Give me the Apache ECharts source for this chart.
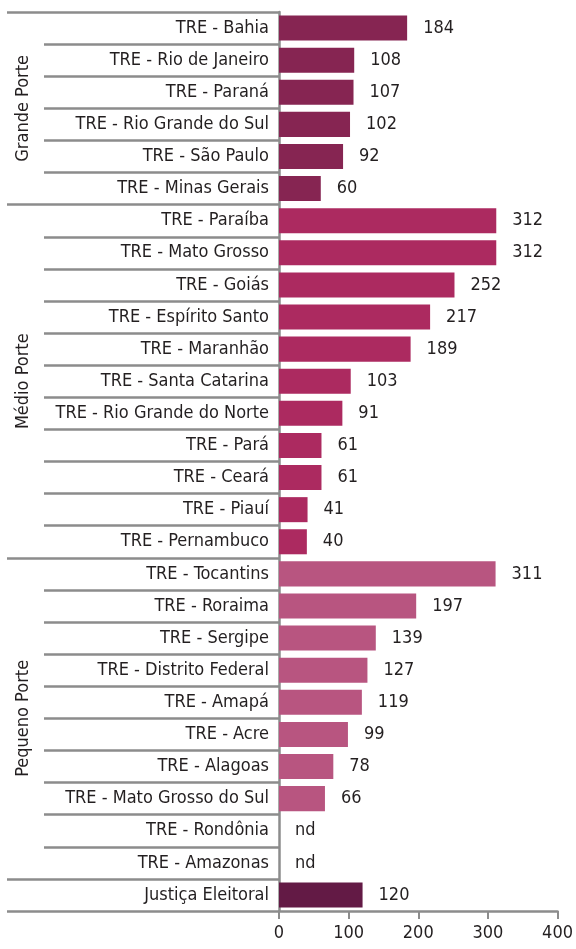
<!DOCTYPE html>
<html>
<head>
<meta charset="utf-8">
<script src="https://cdn.jsdelivr.net/npm/echarts@6/dist/echarts.min.js"></script>
<style>
  html, body { margin: 0; padding: 0; background: #fff; }
  #chart { width: 576px; height: 949px; }
</style>
</head>
<body>
<div id="chart"></div>
<script>
// categorias (ordem de cima para baixo)
const categories = [
  'TRE - Bahia', 'TRE - Rio de Janeiro', 'TRE - Paraná', 'TRE - Rio Grande do Sul', 'TRE - São Paulo', 'TRE - Minas Gerais',
  'TRE - Paraíba', 'TRE - Mato Grosso', 'TRE - Goiás', 'TRE - Espírito Santo', 'TRE - Maranhão', 'TRE - Santa Catarina',
  'TRE - Rio Grande do Norte', 'TRE - Pará', 'TRE - Ceará', 'TRE - Piauí', 'TRE - Pernambuco',
  'TRE - Tocantins', 'TRE - Roraima', 'TRE - Sergipe', 'TRE - Distrito Federal', 'TRE - Amapá', 'TRE - Acre',
  'TRE - Alagoas', 'TRE - Mato Grosso do Sul', 'TRE - Rondônia', 'TRE - Amazonas',
  'Justiça Eleitoral'
];
const values = [
  184, 108, 107, 102, 92, 60,
  312, 312, 252, 217, 189, 103, 91, 61, 61, 41, 40,
  311, 197, 139, 127, 119, 99, 78, 66, null, null,
  120
];
// grupos: índice inicial, índice final, nome
const groupNames = ['Grande Porte', 'Médio Porte', 'Pequeno Porte', ''];
const groupStarts = [0, 6, 17, 27];
const groupEnds = [5, 16, 26, 27];
const groupColors = ['#862552', '#ac2a60', '#b85580', '#631a45'];
const xTicks = [0, 100, 200, 300, 400];

const FONT = "'Liberation Sans Narrow', 'DejaVu Sans Condensed', sans-serif";
const TEXT = '#231f20';
const GRID_LINE = '#8c8c8c';

function groupOf(i) {
  for (let g = groupStarts.length - 1; g >= 0; g--) {
    if (i >= groupStarts[g]) return g;
  }
  return 0;
}

const chart = echarts.init(document.getElementById('chart'));

const option = {
  animation: false,
  grid: { left: 279, right: 18, top: 12, bottom: 38 },
  xAxis: {
    type: 'value',
    min: xTicks[0],
    max: xTicks[xTicks.length - 1],
    interval: 100,
    splitLine: { show: false },
    axisLine: { show: true, lineStyle: { color: GRID_LINE, width: 2.5 } },
    axisTick: { show: true, length: 8, lineStyle: { color: GRID_LINE, width: 2 } },
    axisLabel: { fontFamily: FONT, fontSize: 18, color: TEXT, margin: 13 }
  },
  yAxis: [
    {
      type: 'category',
      data: categories,
      inverse: true,
      axisLine: { show: true, lineStyle: { color: GRID_LINE, width: 2.5 } },
      axisTick: { show: true, interval: 0, length: 235, lineStyle: { color: GRID_LINE, width: 2.5 } },
      axisLabel: { interval: 0, fontFamily: FONT, fontSize: 18, color: TEXT, margin: 10 }
    },
    {
      // linhas longas nas divisões dos grupos
      type: 'category',
      data: categories,
      inverse: true,
      position: 'left',
      axisLine: { show: false },
      axisTick: {
        show: true,
        interval: function (index) { return groupStarts.indexOf(index) >= 0; },
        length: 272,
        lineStyle: { color: GRID_LINE, width: 2.5 }
      },
      axisLabel: { show: false }
    }
  ],
  series: [
    {
      type: 'bar',
      yAxisIndex: 0,
      barCategoryGap: '22%',
      data: values.map((v, i) => ({
        value: v == null ? 0 : v,
        itemStyle: { color: groupColors[groupOf(i)] }
      })),
      label: {
        show: true,
        position: 'right',
        distance: 16,
        fontFamily: FONT,
        fontSize: 18,
        color: TEXT,
        formatter: function (p) {
          return values[p.dataIndex] == null ? 'nd' : String(values[p.dataIndex]);
        }
      }
    }
  ]
};

chart.setOption(option);

// rótulos verticais dos grupos
const groupLabels = [];
groupNames.forEach((name, g) => {
  if (!name) return;
  const y0 = chart.convertToPixel({ yAxisIndex: 0 }, categories[groupStarts[g]]);
  const y1 = chart.convertToPixel({ yAxisIndex: 0 }, categories[groupEnds[g]]);
  groupLabels.push({
    type: 'text',
    x: 23,
    y: (y0 + y1) / 2,
    rotation: Math.PI / 2,
    style: {
      text: name,
      fontFamily: FONT,
      fontSize: 18,
      fill: TEXT,
      textAlign: 'center',
      textVerticalAlign: 'middle'
    }
  });
});
chart.setOption({ graphic: groupLabels });
</script>
</body>
</html>
